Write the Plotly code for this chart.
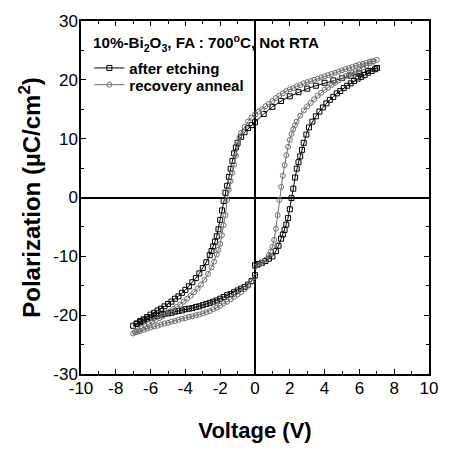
import plotly.graph_objects as go

# ---- after etching (squares) ----
etch_v_up = [0.0, 0.2, 0.4, 0.6, 0.8, 1.0, 1.2, 1.35, 1.5, 1.6, 1.7, 1.8, 1.9, 2.0, 2.1, 2.2, 2.3, 2.4, 2.5, 2.6,
             2.7, 2.8, 2.95, 3.1, 3.3, 3.5, 3.7, 3.9, 4.1, 4.3, 4.5, 4.7, 4.9, 5.1, 5.3, 5.5, 5.7, 5.9, 6.1, 6.3,
             6.5, 6.7, 6.9, 7.0]
etch_p_up = [-11.5, -11.3, -11.1, -10.8, -10.4, -10.0, -9.1, -8.2, -7.0, -6.3, -5.5, -4.6, -3.5, -2.0, -0.1, 1.5,
             3.4, 4.9, 6.0, 7.0, 8.1, 9.3, 10.7, 11.9, 12.9, 13.8, 14.6, 15.3, 16.0, 16.6, 17.1, 17.7, 18.1, 18.6,
             19.0, 19.4, 19.8, 20.2, 20.5, 20.8, 21.2, 21.5, 21.8, 22.0]
etch_v_down = [7.0, 6.5, 6.0, 5.5, 5.0, 4.5, 4.0, 3.5, 3.0, 2.5, 2.0, 1.5, 1.0, 0.5, 0.0, -0.2, -0.4, -0.6, -0.8,
               -1.0, -1.1, -1.2, -1.3, -1.4, -1.5, -1.6, -1.7, -1.8, -1.9, -2.0, -2.1, -2.2, -2.3, -2.4, -2.5,
               -2.6, -2.8, -3.0, -3.2, -3.4, -3.6, -3.8, -4.0, -4.2, -4.4, -4.6, -4.8, -5.0, -5.2, -5.4, -5.6,
               -5.8, -6.0, -6.2, -6.4, -6.6, -6.8, -7.0]
etch_p_down = [22.0, 21.5, 21.1, 20.7, 20.3, 19.9, 19.5, 19.0, 18.5, 17.9, 17.2, 16.4, 15.4, 14.2, 12.8, 12.3,
               11.8, 11.1, 10.3, 9.3, 8.5, 7.5, 6.2, 4.9, 3.5, 2.0, 0.8, -0.6, -2.2, -3.8, -5.4, -6.6, -7.5,
               -8.3, -9.1, -9.8, -11.0, -12.0, -12.9, -13.7, -14.4, -15.1, -15.7, -16.2, -16.8, -17.2, -17.7,
               -18.1, -18.5, -18.9, -19.2, -19.6, -19.9, -20.3, -20.7, -21.0, -21.4, -21.8]
etch_v_back = [-6.8, -6.6, -6.4, -6.2, -6.0, -5.8, -5.6, -5.4, -5.2, -5.0, -4.8, -4.6, -4.4, -4.2, -4.0, -3.8,
               -3.6, -3.4, -3.2, -3.0, -2.8, -2.6, -2.4, -2.2, -2.0, -1.8, -1.6, -1.4, -1.2, -1.0, -0.8, -0.6,
               -0.4, -0.2, 0.0]
etch_p_back = [-21.5, -21.2, -20.9, -20.6, -20.4, -20.2, -20.1, -19.9, -19.8, -19.7, -19.6, -19.4, -19.3, -19.2,
               -19.0, -18.9, -18.8, -18.6, -18.5, -18.3, -18.1, -17.9, -17.7, -17.5, -17.2, -16.9, -16.6, -16.4,
               -16.1, -15.8, -15.5, -15.2, -14.8, -14.2, -13.2]

# ---- recovery anneal (circles) ----
rec_v_up = [0.0, 0.2, 0.4, 0.6, 0.8, 0.9, 1.0, 1.1, 1.2, 1.3, 1.4, 1.5, 1.6, 1.7, 1.8, 1.9, 2.0, 2.1, 2.2, 2.3,
            2.4, 2.6, 2.8, 3.0, 3.2, 3.4, 3.6, 3.8, 4.0, 4.2, 4.4, 4.6, 4.8, 5.0, 5.2, 5.4, 5.6, 5.8, 6.0, 6.2,
            6.4, 6.6, 6.8, 7.0]
rec_p_up = [-11.8, -11.5, -11.1, -10.6, -9.8, -9.2, -8.4, -7.2, -5.3, -3.0, -0.4, 1.8, 3.7, 5.5, 7.2, 8.6, 9.8,
            10.8, 11.6, 12.3, 12.9, 13.9, 14.8, 15.5, 16.1, 16.7, 17.3, 17.8, 18.3, 18.7, 19.1, 19.5, 19.9, 20.3,
            20.6, 20.9, 21.2, 21.5, 21.8, 22.1, 22.4, 22.8, 23.1, 23.4]
rec_v_down = [6.8, 6.6, 6.4, 6.2, 6.0, 5.8, 5.6, 5.4, 5.2, 5.0, 4.8, 4.6, 4.4, 4.2, 4.0, 3.8, 3.6, 3.4, 3.2, 3.0,
              2.8, 2.6, 2.4, 2.2, 2.0, 1.8, 1.6, 1.4, 1.2, 1.0, 0.8, 0.6, 0.4, 0.2, 0.0, -0.2, -0.4, -0.6, -0.8,
              -0.9, -1.0, -1.1, -1.2, -1.3, -1.4, -1.5, -1.6, -1.7, -1.8, -1.9, -2.0, -2.1, -2.2, -2.35, -2.5,
              -2.7, -2.9, -3.1, -3.3, -3.5, -3.7, -3.9, -4.1, -4.3, -4.5, -4.7, -4.9, -5.1, -5.3, -5.5, -5.7,
              -5.9, -6.1, -6.3, -6.5, -6.7, -6.9, -7.0]
rec_p_down = [23.2, 23.1, 22.9, 22.7, 22.6, 22.4, 22.2, 22.0, 21.8, 21.6, 21.4, 21.2, 21.0, 20.8, 20.6, 20.4,
              20.2, 20.0, 19.8, 19.6, 19.4, 19.1, 18.9, 18.6, 18.4, 18.1, 17.7, 17.3, 16.9, 16.4, 15.9, 15.5,
              15.0, 14.6, 14.1, 13.6, 12.9, 12.0, 11.0, 10.2, 8.9, 7.1, 5.6, 4.2, 2.8, 1.3, -0.4, -3.0, -4.7,
              -6.4, -7.9, -8.9, -9.7, -10.9, -11.9, -13.0, -14.0, -14.8, -15.5, -16.1, -16.7, -17.2, -17.7,
              -18.2, -18.6, -19.0, -19.4, -19.8, -20.2, -20.5, -20.8, -21.1, -21.5, -21.9, -22.2, -22.6, -22.9,
              -23.1]
rec_v_back = [-6.8, -6.6, -6.4, -6.2, -6.0, -5.8, -5.6, -5.4, -5.2, -5.0, -4.8, -4.6, -4.4, -4.2, -4.0, -3.8,
              -3.6, -3.4, -3.2, -3.0, -2.8, -2.6, -2.4, -2.2, -2.0, -1.8, -1.6, -1.4, -1.2, -1.0, -0.8, -0.6,
              -0.4, -0.2, 0.0]
rec_p_back = [-22.9, -22.7, -22.5, -22.3, -22.1, -21.9, -21.8, -21.6, -21.4, -21.3, -21.1, -21.0, -20.8, -20.6,
              -20.5, -20.3, -20.2, -20.0, -19.9, -19.7, -19.5, -19.3, -19.0, -18.7, -18.4, -18.0, -17.7, -17.3,
              -16.9, -16.5, -16.1, -15.6, -15.0, -14.3, -13.5]

x_ticks = [-10, -8, -6, -4, -2, 0, 2, 4, 6, 8, 10]
y_ticks = [-30, -20, -10, 0, 10, 20, 30]

FONT = "Liberation Sans, Arial, sans-serif"

fig = go.Figure()
fig.add_trace(go.Scatter(
    x=etch_v_up + etch_v_down + etch_v_back,
    y=etch_p_up + etch_p_down + etch_p_back,
    mode="lines+markers", name="<b>after etching</b>", legend="legend",
    line=dict(color="black", width=1),
    marker=dict(symbol="square-open", size=5, color="black", line=dict(width=1, color="black")),
))
fig.add_trace(go.Scatter(
    x=rec_v_up + rec_v_down + rec_v_back,
    y=rec_p_up + rec_p_down + rec_p_back,
    mode="lines+markers", name="<b>recovery anneal</b>", legend="legend2",
    line=dict(color="#6e6e6e", width=1),
    marker=dict(symbol="circle-open", size=5, color="#6e6e6e", line=dict(width=1, color="#6e6e6e")),
))

axis_common = dict(
    showgrid=False, showline=True, linecolor="black", linewidth=1.5, mirror="ticks",
    ticks="inside", ticklen=5, tickwidth=1, tickcolor="black",
    zeroline=True, zerolinecolor="black", zerolinewidth=2,
    tickfont=dict(family=FONT, size=17, color="black"),
)

legend_common = dict(
    xanchor="left", yanchor="middle", bgcolor="rgba(0,0,0,0)", borderwidth=0,
    font=dict(family=FONT, size=15, color="black"), itemwidth=30,
)

fig.update_layout(
    width=450, height=451,
    margin=dict(l=81, r=15, t=18, b=74),
    paper_bgcolor="white", plot_bgcolor="white",
    showlegend=True,
    legend=dict(x=0.024, y=0.8663, **legend_common),
    legend2=dict(x=0.024, y=0.8189, **legend_common),
    annotations=[dict(
        x=0.028, y=0.9387, xref="paper", yref="paper", xanchor="left", yanchor="middle",
        text="<b>10%-Bi<sub>2</sub>O<sub>3</sub>, FA : 700<sup>o</sup>C, Not RTA</b>",
        showarrow=False, font=dict(family=FONT, size=15.2, color="black"),
    )],
)
fig.update_xaxes(
    range=[-10, 10], tickvals=x_ticks, ticktext=[str(v) for v in x_ticks],
    ticklabelstandoff=-2,
    minor=dict(dtick=1, tick0=0, ticks="inside", ticklen=3, tickcolor="black", showgrid=False),
    title=dict(text="<b>Voltage (V)</b>", font=dict(family=FONT, size=22, color="black"), standoff=25),
    **axis_common,
)
fig.update_yaxes(
    range=[-30, 30], tickvals=y_ticks, ticktext=[str(v) for v in y_ticks],
    ticklabelstandoff=-2,
    minor=dict(dtick=5, tick0=0, ticks="inside", ticklen=3, tickcolor="black", showgrid=False),
    title=dict(text="<b>Polarization (µC/cm<sup>2</sup>)</b>", font=dict(family=FONT, size=24, color="black"),
               standoff=6),
    **axis_common,
)

fig.write_html("out.html")
